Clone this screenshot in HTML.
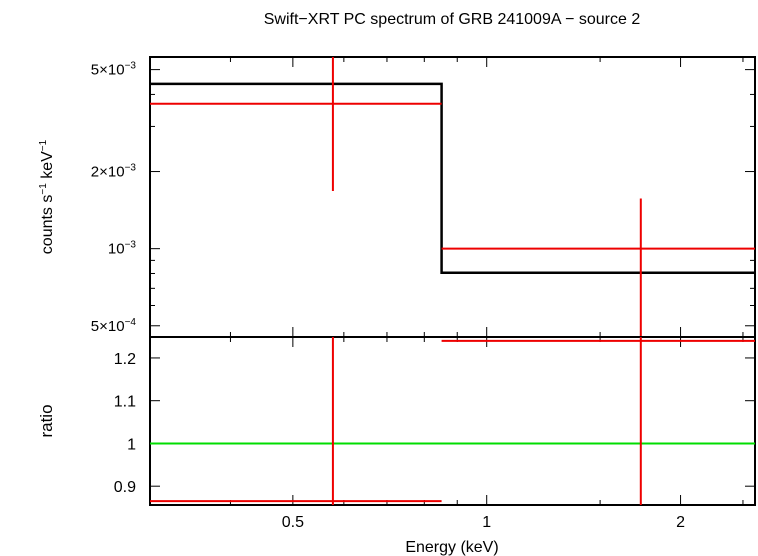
<!DOCTYPE html>
<html><head><meta charset="utf-8"><style>
body{margin:0;background:#fff;}
svg{display:block;font-family:"Liberation Sans",sans-serif;}
</style></head><body>
<svg width="758" height="556" viewBox="0 0 758 556">
<text x="452" y="24" font-size="16" text-anchor="middle">Swift−XRT PC spectrum of GRB 241009A − source 2</text>
<g id="topPanel"></g>
<g id="botPanel"></g>
<text x="452" y="552" font-size="16" text-anchor="middle">Energy (keV)</text>
<text transform="translate(52,197) rotate(-90)" font-size="16" text-anchor="middle">counts s<tspan font-size="10" dy="-6">−1</tspan><tspan dy="6"> keV</tspan><tspan font-size="10" dy="-6">−1</tspan></text>
<text transform="translate(52,421) rotate(-90)" font-size="17" text-anchor="middle">ratio</text>
</svg>
<script>
const binLo=[0.30,0.851];
const binHi=[0.851,2.61];
const binCenter=[0.577,1.735];
const rate=[3.68e-3,1.0e-3];
const rateErrLo=[1.68e-3,1e-5];
const rateErrHi=[6.0e-3,1.57e-3];
const model=[4.4e-3,8.05e-4];
const ratio=[0.865,1.24];
const ratioErrLo=[0.5,0.5];
const ratioErrHi=[1.5,1.5];
const xTicks=[0.5,1,2];
const xTickLabels=["0.5","1","2"];
const yTicks=[5e-3,2e-3,1e-3,5e-4];
const rTicks=[0.9,1,1.1,1.2];

const L=150,R=755,T=57,M=337,B=505;
const xMin=Math.log10(0.30),xMax=Math.log10(2.61);
const X=e=>L+(Math.log10(e)-xMin)/(xMax-xMin)*(R-L);
const yMin=Math.log10(4.52e-4),yMax=Math.log10(5.6e-3);
const Y=v=>M-(Math.log10(v)-yMin)/(yMax-yMin)*(M-T);
const rMin=0.856,rMax=1.249;
const YR=v=>B-(v-rMin)/(rMax-rMin)*(B-M);
const NS="http://www.w3.org/2000/svg";
function mk(p,tag,a){const e=document.createElementNS(NS,tag);for(const k in a)e.setAttribute(k,a[k]);p.appendChild(e);return e;}
const topG=document.getElementById('topPanel'),botG=document.getElementById('botPanel');
const clamp=(v,a,b)=>Math.max(a,Math.min(b,v));
let f=mk(topG,'rect',{x:L,y:T,width:R-L,height:M-T,fill:'none',stroke:'#000','stroke-width':2});


f=mk(botG,'rect',{x:L,y:M,width:R-L,height:B-M,fill:'none',stroke:'#000','stroke-width':2});


const minorX=[0.3,0.4,0.6,0.7,0.8,0.9,1.5,2.5];
xTicks.forEach((t,i)=>{const x=X(t);
 mk(botG,'line',{x1:x,x2:x,y1:B,y2:B-10,stroke:'#000'});mk(botG,'line',{x1:x,x2:x,y1:M,y2:M+10,stroke:'#000'});
 mk(topG,'line',{x1:x,x2:x,y1:M,y2:M-10,stroke:'#000'});mk(topG,'line',{x1:x,x2:x,y1:T,y2:T+10,stroke:'#000'});
 const tx=mk(botG,'text',{x:x,y:527,'font-size':16,'text-anchor':'middle'});tx.textContent=xTickLabels[i];
 
 });
minorX.forEach(t=>{const x=X(t);[[B,-5],[M,5]].forEach(([y,d])=>mk(botG,'line',{x1:x,x2:x,y1:y,y2:y+d,stroke:'#000'}));
 [[M,-5],[T,5]].forEach(([y,d])=>mk(topG,'line',{x1:x,x2:x,y1:y,y2:y+d,stroke:'#000'}));});
const yLab=[["5×10","−3"],["2×10","−3"],["10","−3"],["5×10","−4"]];
yTicks.forEach((t,i)=>{const y=Y(t);
 mk(topG,'line',{x1:L,x2:L+10,y1:y,y2:y,stroke:'#000'});mk(topG,'line',{x1:R,x2:R-10,y1:y,y2:y,stroke:'#000'});
 const tx=mk(topG,'text',{x:136,y:y+5,'font-size':15,'text-anchor':'end'});
 tx.textContent=yLab[i][0];
 const sp=mk(tx,'tspan',{'font-size':10,dy:-6});sp.textContent=yLab[i][1];
 
 });
[3e-3,4e-3,6e-4,7e-4,8e-4,9e-4].forEach(t=>{const y=Y(t);mk(topG,'line',{x1:L,x2:L+5,y1:y,y2:y,stroke:'#000'});mk(topG,'line',{x1:R,x2:R-5,y1:y,y2:y,stroke:'#000'});});
rTicks.forEach(t=>{const y=YR(t);
 mk(botG,'line',{x1:L,x2:L+10,y1:y,y2:y,stroke:'#000'});mk(botG,'line',{x1:R,x2:R-10,y1:y,y2:y,stroke:'#000'});
 const tx=mk(botG,'text',{x:136,y:y+6,'font-size':16,'text-anchor':'end'});tx.textContent=String(t);
 
 });
let d='';model.forEach((m,i)=>{const y=Y(m);d+=(i?'L':'M')+X(binLo[i])+','+y+'L'+X(binHi[i])+','+y;});
const mp=mk(topG,'path',{d:d,fill:'none',stroke:'#000','stroke-width':2.5});


rate.forEach((v,i)=>{const g=mk(topG,'g',{stroke:'#e00','stroke-width':2});
 
 
 const y=Y(v),x=X(binCenter[i]);
 mk(g,'line',{x1:X(binLo[i]),x2:Math.min(X(binHi[i]),R),y1:y,y2:y});
 mk(g,'line',{x1:x,x2:x,y1:clamp(Y(rateErrHi[i]),T,M),y2:clamp(Y(rateErrLo[i]),T,M)});});
const one=mk(botG,'line',{x1:L,x2:R,y1:YR(1),y2:YR(1),stroke:'#0d0','stroke-width':2});


ratio.forEach((v,i)=>{const g=mk(botG,'g',{stroke:'#e00','stroke-width':2});
 
 
 const y=YR(v),x=X(binCenter[i]);
 mk(g,'line',{x1:X(binLo[i]),x2:Math.min(X(binHi[i]),R),y1:y,y2:y});
 mk(g,'line',{x1:x,x2:x,y1:clamp(YR(ratioErrHi[i]),M,B),y2:clamp(YR(ratioErrLo[i]),M,B)});});
</script>
</body></html>
